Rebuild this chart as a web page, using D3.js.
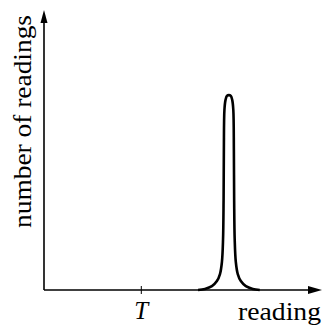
<!DOCTYPE html>
<html><head><meta charset="utf-8">
<script src="https://cdn.jsdelivr.net/npm/d3@7"></script>
<style>html,body{margin:0;padding:0;background:#fff;}svg{display:block;}
text{font-family:'Liberation Serif','Times New Roman',Times,serif;}</style>
</head><body>
<svg id="c" width="322" height="327"></svg>
<script>
// Data (reading units 0-100, count units 0-100)
const readings = [55.4, 57.9, 60.4, 62.2, 63.3, 64.0, 64.4, 64.6, 64.7, 64.9, 65.3, 65.8, 66.5,
                  67.2, 67.7, 68.1, 68.3, 68.4, 68.6, 69.0, 69.7, 70.8, 72.6, 75.1, 77.6];
const counts   = [0, 0.4, 1.4, 3.2, 5.7, 10, 17.9, 32.1, 50, 64.3, 67.9, 69.3, 69.6,
                  69.3, 67.9, 64.3, 50, 32.1, 17.9, 10, 5.7, 3.2, 1.4, 0.4, 0];
const tickValues = [35];
const tickLabels = ["T"];
const xTitle = "reading";
const yTitle = "number of readings";

const svg = d3.select("#c");
const x = d3.scaleLinear().domain([0, 100]).range([44, 322]);
const y = d3.scaleLinear().domain([0, 100]).range([290, 10]);

// axes
svg.append("line").attr("x1", x(0)).attr("x2", x(97)).attr("y1", y(0)).attr("y2", y(0))
  .attr("stroke", "#000").attr("stroke-width", 1.6);
svg.append("line").attr("x1", x(0)).attr("x2", x(0)).attr("y1", y(0)).attr("y2", y(96))
  .attr("stroke", "#000").attr("stroke-width", 1.6);
// arrowheads
const tipX = x(100), ay = y(0);
svg.append("path").attr("d", `M${tipX},${ay} L${tipX-14},${ay-4} L${tipX-14},${ay+4} Z`).attr("fill", "#000");
const tipY = y(100), ax = x(0);
svg.append("path").attr("d", `M${ax},${tipY} L${ax-3.5},${tipY+13} L${ax+3.5},${tipY+13} Z`).attr("fill", "#000");

// tick
svg.selectAll(".tk").data(tickValues).enter().append("line")
  .attr("x1", d => x(d)).attr("x2", d => x(d)).attr("y1", y(0) - 4).attr("y2", y(0) + 4)
  .attr("stroke", "#000").attr("stroke-width", 1);
svg.selectAll(".tl").data(tickLabels).enter().append("text")
  .attr("x", (d, i) => x(tickValues[i])).attr("y", 319)
  .attr("text-anchor", "middle")
  .attr("font-style", "italic").attr("font-size", 25).text(d => d);

// titles
svg.append("text").attr("x", 238).attr("y", 320)
  .attr("font-size", 26).attr("textLength", 83).attr("lengthAdjust", "spacingAndGlyphs").text(xTitle);
svg.append("text").attr("transform", "translate(31,228) rotate(-90)")
  .attr("font-size", 26).attr("textLength", 213).attr("lengthAdjust", "spacingAndGlyphs").text(yTitle);

// curve
const pts = readings.map((r, i) => [r, counts[i]]);
svg.append("path").datum(pts)
  .attr("d", d3.line().x(d => x(d[0])).y(d => y(d[1])).curve(d3.curveCatmullRom.alpha(0.5)))
  .attr("fill", "none").attr("stroke", "#000").attr("stroke-width", 2.6).attr("stroke-linejoin", "round");
</script>
</body></html>
